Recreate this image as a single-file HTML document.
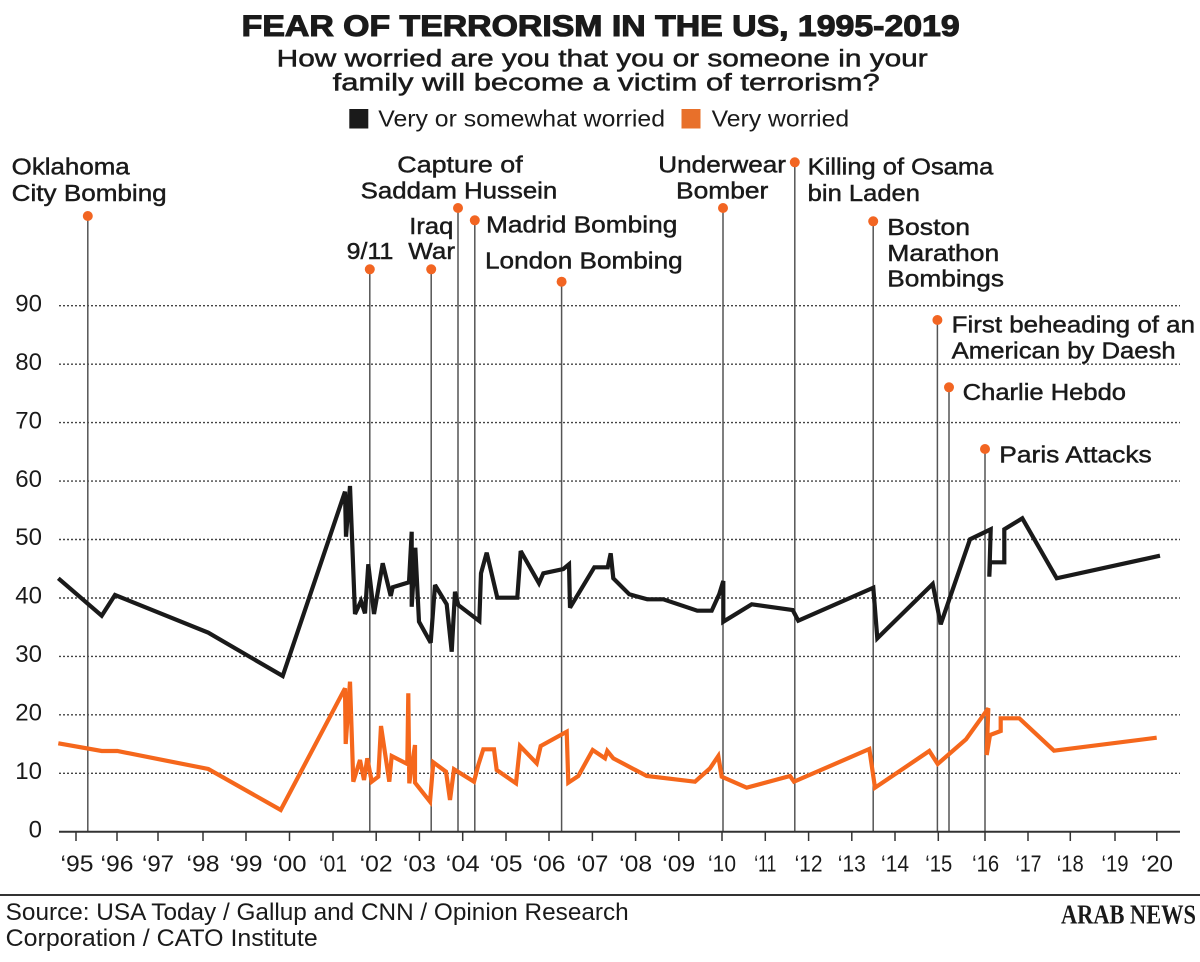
<!DOCTYPE html>
<html>
<head>
<meta charset="utf-8">
<style>
  html, body { margin: 0; padding: 0; background: #ffffff; }
  svg { display: block; }
  text { font-family: "Liberation Sans", sans-serif; fill: #1a1a1a; }
</style>
</head>
<body>
<svg width="1200" height="962" viewBox="0 0 1200 962" xmlns="http://www.w3.org/2000/svg">
  <rect x="0" y="0" width="1200" height="962" fill="#ffffff"/>

  <!-- Title -->
  <text x="241.7" y="36" font-size="30" font-weight="bold" textLength="718" lengthAdjust="spacingAndGlyphs" stroke="#1a1a1a" stroke-width="1.1">FEAR OF TERRORISM IN THE US, 1995-2019</text>
  <text x="276.7" y="66.7" font-size="24" textLength="651" lengthAdjust="spacingAndGlyphs" stroke="#1a1a1a" stroke-width="0.5">How worried are you that you or someone in your</text>
  <text x="332.7" y="90.7" font-size="24" textLength="547" lengthAdjust="spacingAndGlyphs" stroke="#1a1a1a" stroke-width="0.5">family will become a victim of terrorism?</text>

  <!-- Legend -->
  <rect x="349.3" y="109" width="19" height="19.5" fill="#1a1a1a"/>
  <text x="378.3" y="126.5" font-size="23" textLength="286.7" lengthAdjust="spacingAndGlyphs">Very or somewhat worried</text>
  <rect x="681.5" y="109" width="19" height="19.5" fill="#e8702a"/>
  <text x="711.6" y="126.5" font-size="23" textLength="137.5" lengthAdjust="spacingAndGlyphs">Very worried</text>

  <!-- Gridlines -->
  <g stroke="#444" stroke-width="1.4" stroke-dasharray="2 2">
    <line x1="59" y1="773.3" x2="1180" y2="773.3"/>
    <line x1="59" y1="714.8" x2="1180" y2="714.8"/>
    <line x1="59" y1="656.4" x2="1180" y2="656.4"/>
    <line x1="59" y1="598.0" x2="1180" y2="598.0"/>
    <line x1="59" y1="539.5" x2="1180" y2="539.5"/>
    <line x1="59" y1="481.1" x2="1180" y2="481.1"/>
    <line x1="59" y1="422.6" x2="1180" y2="422.6"/>
    <line x1="59" y1="364.2" x2="1180" y2="364.2"/>
    <line x1="59" y1="305.7" x2="1180" y2="305.7"/>
  </g>

  <!-- Y labels -->
  <g font-size="24" text-anchor="end">
    <text x="42" y="837.5">0</text>
    <text x="42" y="779">10</text>
    <text x="42" y="720.5">20</text>
    <text x="42" y="662">30</text>
    <text x="42" y="603.7">40</text>
    <text x="42" y="545.2">50</text>
    <text x="42" y="486.8">60</text>
    <text x="42" y="428.3">70</text>
    <text x="42" y="369.9">80</text>
    <text x="42" y="311.4">90</text>
  </g>

  <!-- Event lines -->
  <g stroke="#555" stroke-width="1.5">
    <line x1="87.8" y1="216" x2="87.8" y2="831.7"/>
    <line x1="369.8" y1="269.3" x2="369.8" y2="831.7"/>
    <line x1="431.2" y1="269.3" x2="431.2" y2="831.7"/>
    <line x1="458" y1="208" x2="458" y2="831.7"/>
    <line x1="474.8" y1="220.3" x2="474.8" y2="831.7"/>
    <line x1="561.6" y1="281.7" x2="561.6" y2="831.7"/>
    <line x1="723" y1="208" x2="723" y2="831.7"/>
    <line x1="794.8" y1="162.3" x2="794.8" y2="831.7"/>
    <line x1="873.2" y1="221.3" x2="873.2" y2="831.7"/>
    <line x1="937.4" y1="320" x2="937.4" y2="831.7"/>
    <line x1="949" y1="387.3" x2="949" y2="831.7"/>
    <line x1="985" y1="449" x2="985" y2="831.7"/>
  </g>

  <!-- Event dots -->
  <g fill="#f26522">
    <circle cx="87.8" cy="216" r="5"/>
    <circle cx="369.8" cy="269.3" r="5"/>
    <circle cx="431.2" cy="269.3" r="5"/>
    <circle cx="458" cy="208" r="5"/>
    <circle cx="474.8" cy="220.3" r="5"/>
    <circle cx="561.6" cy="281.7" r="5"/>
    <circle cx="723" cy="208" r="5"/>
    <circle cx="794.8" cy="162.3" r="5"/>
    <circle cx="873.2" cy="221.3" r="5"/>
    <circle cx="937.4" cy="320" r="5"/>
    <circle cx="949" cy="387.3" r="5"/>
    <circle cx="985" cy="449" r="5"/>
  </g>

  <!-- Event labels -->
  <g font-size="23" stroke="#1a1a1a" stroke-width="0.45">
    <text x="11.7" y="174.3" textLength="118" lengthAdjust="spacingAndGlyphs">Oklahoma</text>
    <text x="11.7" y="201" textLength="155" lengthAdjust="spacingAndGlyphs">City Bombing</text>
    <text x="397.3" y="172.3" textLength="125.4" lengthAdjust="spacingAndGlyphs">Capture of</text>
    <text x="360.7" y="198.3" textLength="196.6" lengthAdjust="spacingAndGlyphs">Saddam Hussein</text>
    <text x="409.3" y="234" textLength="44" lengthAdjust="spacingAndGlyphs">Iraq</text>
    <text x="408.3" y="259" textLength="46.7" lengthAdjust="spacingAndGlyphs">War</text>
    <text x="346.7" y="259" textLength="46.6" lengthAdjust="spacingAndGlyphs">9/11</text>
    <text x="486" y="232.7" textLength="191.3" lengthAdjust="spacingAndGlyphs">Madrid Bombing</text>
    <text x="485" y="268.3" textLength="197.7" lengthAdjust="spacingAndGlyphs">London Bombing</text>
    <text x="658.3" y="172.3" textLength="127.7" lengthAdjust="spacingAndGlyphs">Underwear</text>
    <text x="676" y="198.3" textLength="92.3" lengthAdjust="spacingAndGlyphs">Bomber</text>
    <text x="807.7" y="174.3" textLength="185.6" lengthAdjust="spacingAndGlyphs">Killing of Osama</text>
    <text x="807.7" y="201" textLength="112.3" lengthAdjust="spacingAndGlyphs">bin Laden</text>
    <text x="887.3" y="235" textLength="82.7" lengthAdjust="spacingAndGlyphs">Boston</text>
    <text x="887.3" y="261" textLength="112" lengthAdjust="spacingAndGlyphs">Marathon</text>
    <text x="887.3" y="286.7" textLength="116.7" lengthAdjust="spacingAndGlyphs">Bombings</text>
    <text x="951.7" y="332.7" textLength="243.3" lengthAdjust="spacingAndGlyphs">First beheading of an</text>
    <text x="951.7" y="358.3" textLength="224" lengthAdjust="spacingAndGlyphs">American by Daesh</text>
    <text x="962.7" y="400" textLength="163.3" lengthAdjust="spacingAndGlyphs">Charlie Hebdo</text>
    <text x="999.3" y="462.3" textLength="152.4" lengthAdjust="spacingAndGlyphs">Paris Attacks</text>
  </g>

  <!-- Very worried (orange) -->
  <polyline fill="none" stroke="#f5671c" stroke-width="4.2" stroke-linejoin="miter" stroke-miterlimit="3" points="
    58.3,743.3 101.7,751 117.3,751 208.3,769 280.7,810 345,688.3 345.7,744 350,681.7 353.3,781.7 360,760 364,780 367.3,758.3 371.7,781.7 378.3,776.7 381,726 389.3,781.7 391.7,756 407.3,764 408.3,693.3 409.3,783.3 415,745 415,782.7 430,801.7 433.3,762.3 446,771.7 450,800 454,769.3 474,781.7 478.3,765 483.3,749.3 494,749.3 496.7,770 516,783.3 520,746 536.7,763.3 540.7,746 566.7,731.7 568.3,782.7 578.3,776 592.7,750 605,758.3 607.3,751 613.3,758.3 646.7,776 695,781.7 710,768.3 718.3,756 721.7,776.7 746.7,787.7 790,776 794,781.7 869.3,749 875,787.7 929.3,751 937.7,764 966,739.3 988.3,708.3 986.7,755 990,735 1000.7,731 1000.7,718.3 1019.3,718.3 1054,750.7 1156.7,737.7"/>

  <!-- Very or somewhat worried (black) -->
  <polyline fill="none" stroke="#1a1a1a" stroke-width="4.2" stroke-linejoin="miter" stroke-miterlimit="3" points="
    58.3,578.3 101.7,615.7 115,595 208.3,632.7 282.7,676 345,491.7 346,536.7 350,486 355,614 361,601 365,613.3 368.3,564.3 374,614 382.7,563.3 390.7,596 392.7,587.3 409,582.3 411.7,531.7 411.7,606.7 415.3,547.7 419,621.7 430.7,642.7 435,585 446.7,604.3 451.7,651.7 455,591.7 458.3,605 479.3,621 481,573.3 486.7,552.7 497.3,597.7 517.3,597.7 520.7,551 539,583.3 543.3,573.3 563.3,569 569,564.3 570,607.7 594.3,567.3 607.7,567.3 610.7,553.3 613.3,578.3 629.3,594.3 647.3,599.3 663.3,599.3 697.3,610.7 711.7,610.7 719.3,594 723.3,581 723.3,621.7 751.7,604.3 792.7,610 798.3,620.7 873.3,587.7 877.3,638.3 932.7,584 940.7,624.3 970,539.3 990.7,529.3 989.3,576.7 990,562.3 1004.3,562.3 1004.3,529.3 1022.3,518.3 1056.7,578.3 1160,555.7"/>

  <!-- X axis -->
  <line x1="59" y1="831.7" x2="1180" y2="831.7" stroke="#333" stroke-width="2"/>
  <g stroke="#333" stroke-width="1.5">
    <line x1="76" y1="831.7" x2="76" y2="841"/>
    <line x1="117" y1="831.7" x2="117" y2="841"/>
    <line x1="158" y1="831.7" x2="158" y2="841"/>
    <line x1="203" y1="831.7" x2="203" y2="841"/>
    <line x1="246" y1="831.7" x2="246" y2="841"/>
    <line x1="289.5" y1="831.7" x2="289.5" y2="841"/>
    <line x1="333" y1="831.7" x2="333" y2="841"/>
    <line x1="376.2" y1="831.7" x2="376.2" y2="841"/>
    <line x1="419.4" y1="831.7" x2="419.4" y2="841"/>
    <line x1="462.7" y1="831.7" x2="462.7" y2="841"/>
    <line x1="506" y1="831.7" x2="506" y2="841"/>
    <line x1="549" y1="831.7" x2="549" y2="841"/>
    <line x1="592.4" y1="831.7" x2="592.4" y2="841"/>
    <line x1="635.6" y1="831.7" x2="635.6" y2="841"/>
    <line x1="678.8" y1="831.7" x2="678.8" y2="841"/>
    <line x1="722" y1="831.7" x2="722" y2="841"/>
    <line x1="765.3" y1="831.7" x2="765.3" y2="841"/>
    <line x1="808.6" y1="831.7" x2="808.6" y2="841"/>
    <line x1="851.8" y1="831.7" x2="851.8" y2="841"/>
    <line x1="895" y1="831.7" x2="895" y2="841"/>
    <line x1="938.3" y1="831.7" x2="938.3" y2="841"/>
    <line x1="985" y1="831.7" x2="985" y2="841"/>
    <line x1="1028" y1="831.7" x2="1028" y2="841"/>
    <line x1="1070.3" y1="831.7" x2="1070.3" y2="841"/>
    <line x1="1115" y1="831.7" x2="1115" y2="841"/>
    <line x1="1156.8" y1="831.7" x2="1156.8" y2="841"/>
  </g>
  <g font-size="23" text-anchor="middle">
    <text x="77" y="871.5" textLength="33" lengthAdjust="spacingAndGlyphs">‘95</text>
    <text x="117" y="871.5" textLength="33" lengthAdjust="spacingAndGlyphs">‘96</text>
    <text x="158" y="871.5" textLength="32" lengthAdjust="spacingAndGlyphs">‘97</text>
    <text x="203" y="871.5" textLength="33" lengthAdjust="spacingAndGlyphs">‘98</text>
    <text x="246" y="871.5" textLength="33" lengthAdjust="spacingAndGlyphs">‘99</text>
    <text x="289.5" y="871.5" textLength="34" lengthAdjust="spacingAndGlyphs">‘00</text>
    <text x="333" y="871.5" textLength="28" lengthAdjust="spacingAndGlyphs">‘01</text>
    <text x="376.2" y="871.5" textLength="33" lengthAdjust="spacingAndGlyphs">‘02</text>
    <text x="419.4" y="871.5" textLength="33" lengthAdjust="spacingAndGlyphs">‘03</text>
    <text x="462.7" y="871.5" textLength="34" lengthAdjust="spacingAndGlyphs">‘04</text>
    <text x="506" y="871.5" textLength="33" lengthAdjust="spacingAndGlyphs">‘05</text>
    <text x="549" y="871.5" textLength="33" lengthAdjust="spacingAndGlyphs">‘06</text>
    <text x="592.4" y="871.5" textLength="32" lengthAdjust="spacingAndGlyphs">‘07</text>
    <text x="635.6" y="871.5" textLength="33" lengthAdjust="spacingAndGlyphs">‘08</text>
    <text x="678.8" y="871.5" textLength="33" lengthAdjust="spacingAndGlyphs">‘09</text>
    <text x="722" y="871.5" textLength="28" lengthAdjust="spacingAndGlyphs">‘10</text>
    <text x="765.3" y="871.5" textLength="22" lengthAdjust="spacingAndGlyphs">‘11</text>
    <text x="808.6" y="871.5" textLength="28" lengthAdjust="spacingAndGlyphs">‘12</text>
    <text x="851.8" y="871.5" textLength="28" lengthAdjust="spacingAndGlyphs">‘13</text>
    <text x="895" y="871.5" textLength="28" lengthAdjust="spacingAndGlyphs">‘14</text>
    <text x="938.8" y="871.5" textLength="27" lengthAdjust="spacingAndGlyphs">‘15</text>
    <text x="985.6" y="871.5" textLength="27" lengthAdjust="spacingAndGlyphs">‘16</text>
    <text x="1028.5" y="871.5" textLength="26" lengthAdjust="spacingAndGlyphs">‘17</text>
    <text x="1070.3" y="871.5" textLength="27" lengthAdjust="spacingAndGlyphs">‘18</text>
    <text x="1115" y="871.5" textLength="27" lengthAdjust="spacingAndGlyphs">‘19</text>
    <text x="1157" y="871.5" textLength="32" lengthAdjust="spacingAndGlyphs">‘20</text>
  </g>

  <!-- Footer -->
  <line x1="0" y1="895" x2="1200" y2="895" stroke="#333" stroke-width="2"/>
  <text x="5.7" y="920" font-size="24" textLength="623" lengthAdjust="spacingAndGlyphs">Source: USA Today / Gallup and CNN / Opinion Research</text>
  <text x="5.7" y="946" font-size="24" textLength="312" lengthAdjust="spacingAndGlyphs">Corporation / CATO Institute</text>
  <text x="1061" y="923.3" font-size="27" font-weight="bold" style="font-family:'Liberation Serif', serif" textLength="135" lengthAdjust="spacingAndGlyphs">ARAB NEWS</text>
</svg>
</body>
</html>
